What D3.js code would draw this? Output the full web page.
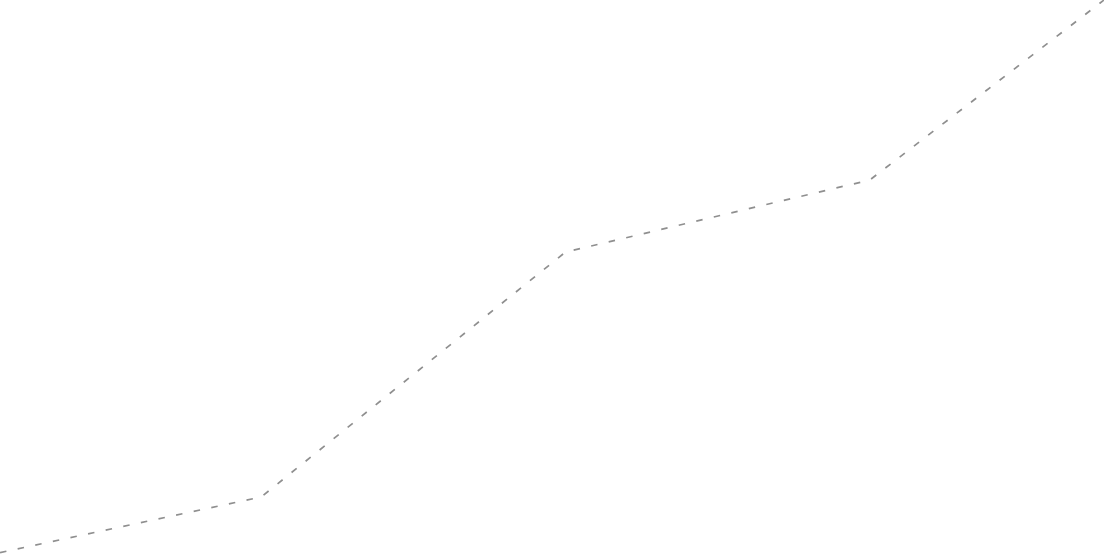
<!DOCTYPE html>
<html>
<head>
<meta charset="utf-8">
<script src="https://cdn.jsdelivr.net/npm/d3@7"></script>
<style>
  html, body { margin: 0; padding: 0; background: #fff; overflow: hidden; }
  svg { display: block; }
</style>
</head>
<body>
<script>
// Data
const categories = ["P1", "P2", "P3", "P4", "P5"];
const values = [-1.4, 10.3, 54.5, 67.5, 109.7];

const width = 1104, height = 554;

const svg = d3.select("body").append("svg")
  .attr("width", width)
  .attr("height", height);

// The visible window is a crop of a wider plot: end points lie beyond the edges
const x = d3.scalePoint().domain(categories).range([-43, 1174]);
const y = d3.scaleLinear().domain([0, 100]).range([height, 0]);

const line = d3.line()
  .x((d, i) => x(categories[i]))
  .y(d => y(d));

svg.append("path")
  .datum(values)
  .attr("d", line)
  .attr("fill", "none")
  .attr("stroke", "#8f8f8f")
  .attr("stroke-width", 1.7)
  .attr("stroke-dasharray", "6.5,11.5")
  .attr("stroke-dashoffset", 10);
</script>
</body>
</html>
